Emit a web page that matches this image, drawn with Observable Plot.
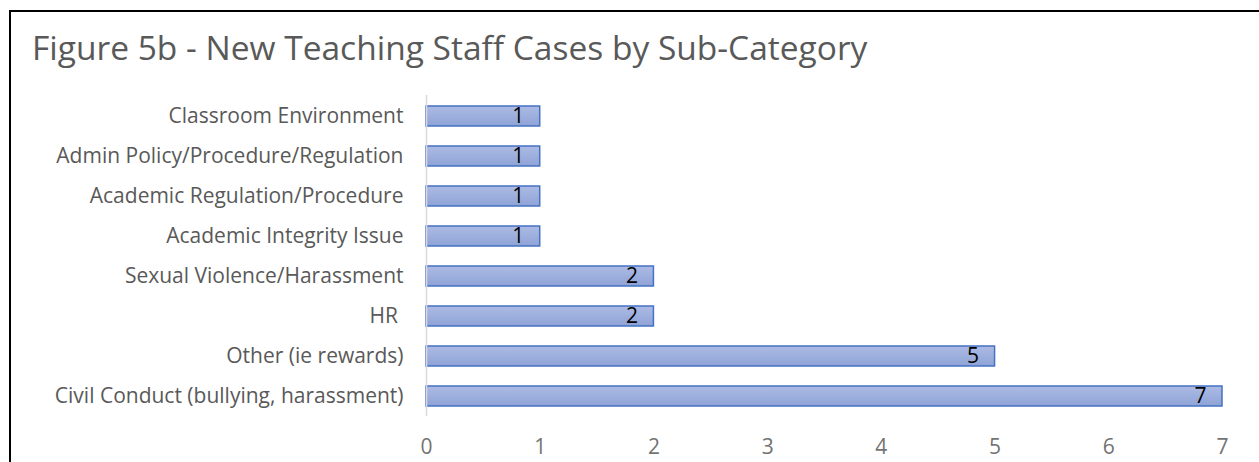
<!DOCTYPE html>
<html>
<head>
<meta charset="utf-8">
<script src="https://cdn.jsdelivr.net/npm/d3@7"></script>
<script src="https://cdn.jsdelivr.net/npm/@observablehq/plot@0.6"></script>
<style>
  html, body { margin: 0; padding: 0; background: #fff; }
  #wrap { position: relative; width: 1259px; height: 462px; overflow: hidden; }
  #frame { position: absolute; left: 9px; top: 10px; width: 1300px; height: 500px;
           border-left: 2px solid #000; border-top: 2px solid #000; box-sizing: border-box; }
  #title { position: absolute; left: 32px; top: 31px; font-family: "Open Sans", sans-serif;
           font-size: 33.5px; color: #595959; white-space: nowrap; line-height: 1; }
  #chart { position: absolute; left: 0; top: 92px; }
  #chart svg text { white-space: pre; }
</style>
</head>
<body>
<div id="wrap">
  <div id="frame"></div>
  <div id="title">Figure 5b - New Teaching Staff Cases by Sub-Category</div>
  <div id="chart"></div>
</div>
<script>
const categories = [
  "Classroom Environment",
  "Admin Policy/Procedure/Regulation",
  "Academic Regulation/Procedure",
  "Academic Integrity Issue",
  "Sexual Violence/Harassment",
  "HR ",
  "Other (ie rewards)",
  "Civil Conduct (bullying, harassment)"
];
const values = [1, 1, 1, 1, 2, 2, 5, 7];
const xTicks = [0, 1, 2, 3, 4, 5, 6, 7];

const data = categories.map((c, i) => ({category: c, value: values[i]}));

const chart = Plot.plot({
  width: 1259,
  height: 370,
  marginLeft: 426,
  marginRight: 37,
  marginTop: 3,
  marginBottom: 46,
  style: {fontFamily: "'Open Sans', sans-serif", fontSize: "21px", color: "#595959", background: "transparent"},
  x: {domain: [0, 7], ticks: xTicks},
  y: {domain: categories, paddingInner: 0.5, paddingOuter: 0.25},
  marks: [
    Plot.barX(data, {y: "category", x: "value", fill: "url(#barGrad)", stroke: "#4472c4", strokeWidth: 1.5}),
    Plot.ruleX([0], {stroke: "#d9d9d9", strokeWidth: 1.5}),
    Plot.text(data, {y: "category", x: "value", text: d => String(d.value), textAnchor: "end", dx: -16, fill: "#000", fontSize: 21}),
    Plot.axisY({tickSize: 0, tickPadding: 23, label: null, fill: "#595959", fontSize: 21}),
    Plot.axisX({ticks: xTicks, tickFormat: "d", tickSize: 0, tickPadding: 23, label: null, fill: "#737373", fontSize: 21})
  ]
});

const defs = d3.create("svg:defs");
const grad = defs.append("linearGradient").attr("id", "barGrad").attr("x1", 0).attr("y1", 0).attr("x2", 0).attr("y2", 1);
grad.append("stop").attr("offset", "0%").attr("stop-color", "#adbbe4");
grad.append("stop").attr("offset", "100%").attr("stop-color", "#8ea3d6");
chart.insertBefore(defs.node(), chart.firstChild);

document.getElementById("chart").appendChild(chart);
</script>
</body>
</html>
